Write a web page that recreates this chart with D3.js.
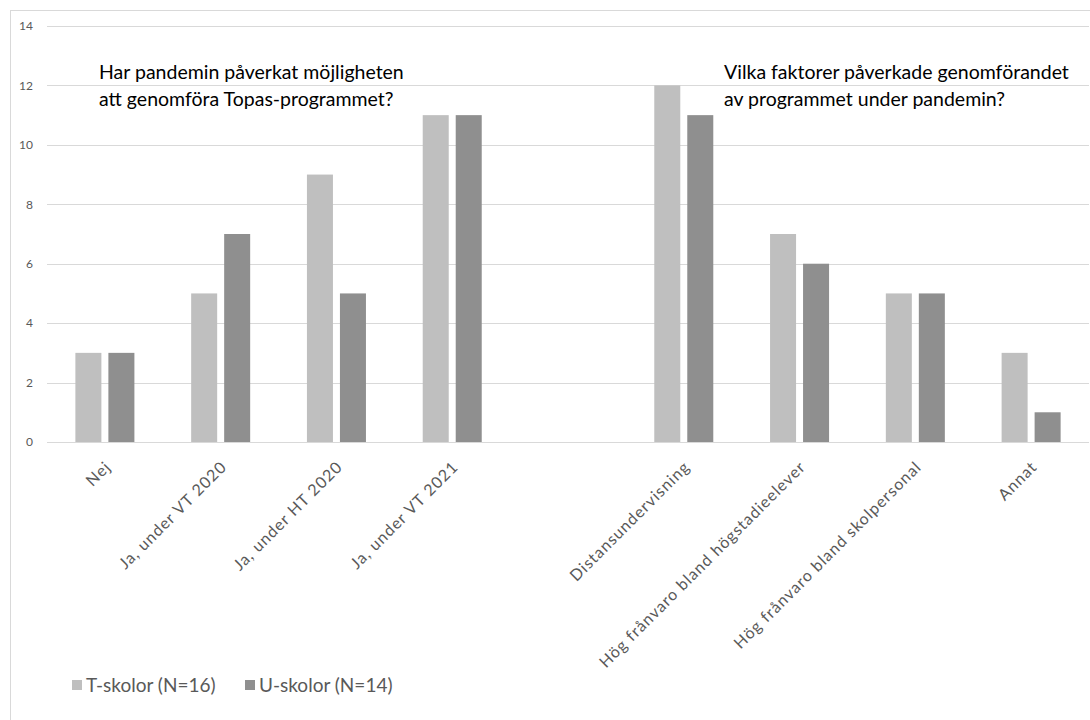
<!DOCTYPE html>
<html>
<head>
<meta charset="utf-8">
<script src="https://cdn.jsdelivr.net/npm/d3@7"></script>
<style>
  html, body { margin: 0; padding: 0; background: #fff; }
  svg { display: block; }
</style>
</head>
<body>
<svg id="chart" width="1090" height="720"></svg>
<script>
// Categories (the empty entry is a spacer between the two question groups)
const categories = [
  "Nej", "Ja, under VT 2020", "Ja, under HT 2020", "Ja, under VT 2021", "",
  "Distansundervisning", "Hög frånvaro bland högstadieelever",
  "Hög frånvaro bland skolpersonal", "Annat"
];
const tSchools = [3, 5, 9, 11, null, 12, 7, 5, 3];
const uSchools = [3, 7, 5, 11, null, 11, 6, 5, 1];
const seriesNames = ["T-skolor (N=16)", "U-skolor (N=14)"];
const seriesColors = ["#bfbfbf", "#8f8f8f"];
const yTicks = [0, 2, 4, 6, 8, 10, 12, 14];
const titleLeft = ["Har pandemin påverkat möjligheten", "att genomföra Topas-programmet?"];
const titleRight = ["Vilka faktorer påverkade genomförandet", "av programmet under pandemin?"];

const svg = d3.select("#chart");
const FONT = "Lato, 'Open Sans', sans-serif";
const plot = { left: 47, right: 1089, top: 26, bottom: 442 };

// chart area border (left and top edges visible)
svg.append("rect")
  .attr("x", 10.5).attr("y", 10.5)
  .attr("width", 1100).attr("height", 730)
  .attr("fill", "none").attr("stroke", "#d9d9d9");

const x = d3.scaleBand().domain(categories).range([plot.left, plot.right]).padding(0);
const xs = d3.scaleBand().domain(seriesNames).range([0, x.bandwidth()])
  .paddingInner(0.212).paddingOuter(0.86);
const y = d3.scaleLinear().domain([0, 14]).range([plot.bottom, plot.top]);

// horizontal gridlines
svg.append("g").selectAll("line").data(yTicks).join("line")
  .attr("x1", plot.left).attr("x2", plot.right)
  .attr("y1", d => Math.round(y(d)) + 0.5).attr("y2", d => Math.round(y(d)) + 0.5)
  .attr("stroke", "#d9d9d9").attr("stroke-width", 1);

// y axis labels
const yAxis = d3.axisLeft(y).tickValues(yTicks).tickSize(0).tickPadding(0);
const gy = svg.append("g").attr("transform", `translate(${plot.left - 14},0)`).call(yAxis);
gy.select(".domain").remove();
gy.selectAll("text").attr("font-family", FONT).attr("font-size", 12).attr("fill", "#595959");

// bars
const data = categories.map((c, i) => ({ c, vals: [tSchools[i], uSchools[i]] }));
const groups = svg.append("g").selectAll("g").data(data).join("g")
  .attr("transform", d => `translate(${x(d.c)},0)`);
groups.selectAll("rect")
  .data(d => d.vals.map((v, k) => ({ v, k })).filter(e => e.v != null))
  .join("rect")
  .attr("x", e => xs(seriesNames[e.k]))
  .attr("width", xs.bandwidth())
  .attr("y", e => y(e.v))
  .attr("height", e => y(0) - y(e.v))
  .attr("fill", e => seriesColors[e.k]);

// x axis labels, rotated -45°
const xAxis = d3.axisBottom(x).tickSize(0).tickPadding(0);
const gx = svg.append("g").attr("transform", `translate(0,${plot.bottom})`).call(xAxis);
gx.select(".domain").remove();
gx.selectAll("text")
  .attr("font-family", FONT).attr("font-size", 16).attr("fill", "#595959")
  .attr("letter-spacing", 1.0)
  .attr("text-anchor", "end")
  .attr("dy", 0).attr("y", 0)
  .attr("transform", "translate(7,26) rotate(-45)");

// question titles
function drawTitle(lines, tx) {
  svg.append("text")
    .attr("x", tx).attr("y", 79)
    .attr("font-family", FONT).attr("font-size", 19.5).attr("fill", "#000")
    .selectAll("tspan").data(lines).join("tspan")
    .attr("x", tx).attr("dy", (d, i) => i === 0 ? 0 : 27)
    .text(d => d);
}
drawTitle(titleLeft, 99);
drawTitle(titleRight, 724);

// legend
const legendX = [72, 245];
const lg = svg.append("g").selectAll("g").data(seriesNames).join("g")
  .attr("transform", (d, i) => `translate(${legendX[i]},680)`);
lg.append("rect").attr("width", 10).attr("height", 10).attr("fill", (d, i) => seriesColors[i]);
lg.append("text").attr("x", 14).attr("y", 12)
  .attr("font-family", FONT).attr("font-size", 19).attr("fill", "#595959")
  .text(d => d);
</script>
</body>
</html>
